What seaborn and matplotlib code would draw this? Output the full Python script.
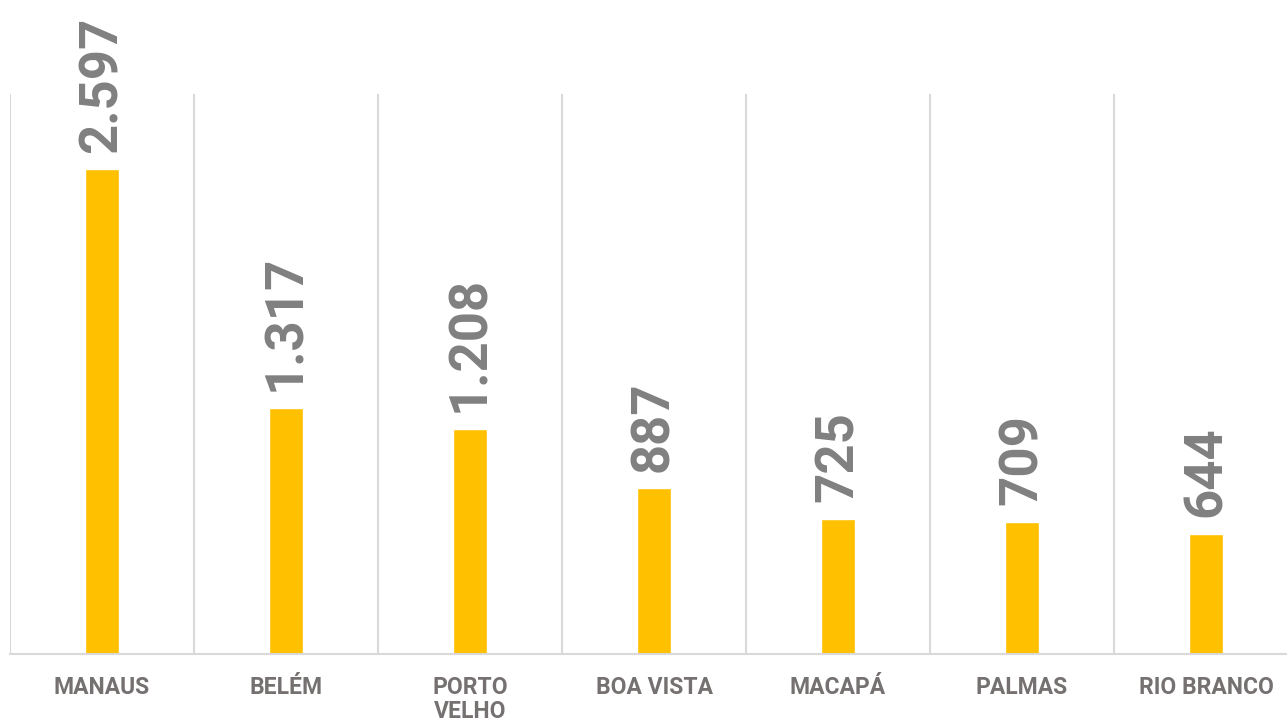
import numpy as np
import pandas as pd
import seaborn as sns
from matplotlib import pyplot as plt
from matplotlib.ticker import MultipleLocator

cidades = ['MANAUS', 'BELÉM', 'PORTO\nVELHO', 'BOA VISTA', 'MACAPÁ', 'PALMAS', 'RIO BRANCO']
valores = [2597, 1317, 1208, 887, 725, 709, 644]

df = pd.DataFrame({'cidade': cidades, 'valor': valores})

sns.set_style('white')
plt.rcParams['font.family'] = ['Roboto', 'DejaVu Sans']

fig = plt.figure(figsize=(12.87, 7.23), dpi=100)
ax = fig.add_axes([10 / 1287, 69 / 723, 1288 / 1287, 560 / 723])

sns.barplot(data=df, x='cidade', y='valor', color='#FFC000', width=0.18,
            saturation=1, ax=ax)


def fmt_br(v):
    return f'{int(round(v)):,}'.replace(',', '.')


ax.bar_label(ax.containers[0], labels=[fmt_br(v) for v in valores],
             rotation=90, padding=12, fontsize=38, fontweight='bold',
             color='#808080', clip_on=False)

ax.set_xlim(-0.5, len(cidades) - 0.5)
ax.set_ylim(0, 3000)

# linhas verticais separando as categorias
ax.xaxis.set_minor_locator(MultipleLocator(1, offset=0.5))
ax.grid(which='minor', axis='x', color='#d9d9d9', linewidth=1.5)
ax.grid(which='major', visible=False)

ax.set_yticks([])
ax.set_xlabel('')
ax.set_ylabel('')
ax.tick_params(axis='x', which='both', length=0, pad=16)
for lbl in ax.get_xticklabels():
    lbl.set_fontsize(16.5)
    lbl.set_fontweight('bold')
    lbl.set_color('#767171')
    lbl.set_verticalalignment('top')
    lbl.set_linespacing(1.05)

for s in ['top', 'right', 'left']:
    ax.spines[s].set_visible(False)
ax.spines['bottom'].set_color('#d9d9d9')
ax.spines['bottom'].set_linewidth(1.5)

fig.savefig('out.png', dpi=100)
